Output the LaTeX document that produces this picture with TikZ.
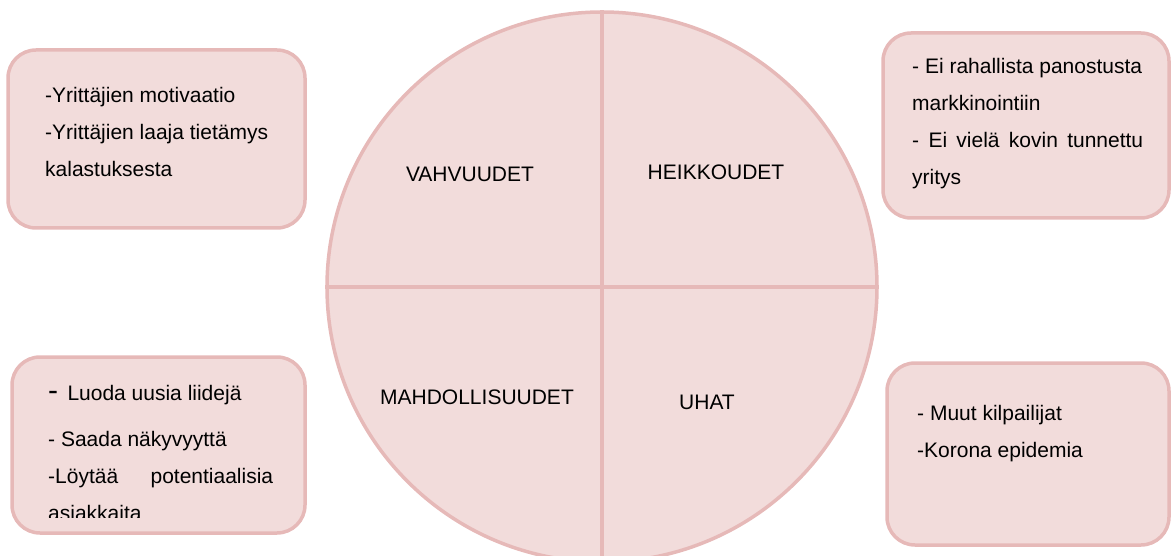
\documentclass[tikz,border=0pt]{standalone}
\usepackage{fontspec}
\setmainfont{Liberation Sans}
\definecolor{swotfill}{HTML}{F2DCDB}
\definecolor{swotline}{HTML}{E6B9B8}
\tikzset{
    swot/.style={font=\fontsize{21}{37}\selectfont},
    swot circle/.style={circle, draw=swotline, fill=swotfill, line width=3.5pt,
        minimum size=550pt, inner sep=0pt},
    swot divider/.style={draw=swotline, line width=3.5pt},
    swot box/.style={rounded corners=28pt, draw=swotline, fill=swotfill,
        line width=3.5pt, inner sep=0pt},
    swot label/.style={inner sep=0pt},
    swot text/.style={anchor=base west, align=left, inner sep=0pt},
}

\begin{document}
\begin{tikzpicture}[swot, x=1pt, y=-1pt]

    \useasboundingbox (0,0) rectangle (1173,556);
    \clip (0,0) rectangle (1173,556);

    % Circle
    \node[swot circle] (swot) at (602,287) {};
    \draw[swot divider] (swot.north) -- (swot.south);
    \draw[swot divider] (swot.west) -- (swot.east);

    \node[swot label] (strength) at (470,174) {VAHVUUDET};
    \node[swot label] (weakness) at (716,172) {HEIKKOUDET};
    \node[swot label] (chance) at (477,397) {MAHDOLLISUUDET};
    \node[swot label] (threat) at (707,402) {UHAT};

    % Boxes
    \node[swot box, minimum width=297pt, minimum height=178pt] (strbox) at (156.5,139) {};
    \node[swot box, minimum width=286pt, minimum height=185pt] (weakbox) at (1026,125.5) {};
    \node[swot box, minimum width=293pt, minimum height=176pt] (chancebox) at (158.5,445) {};
    \node[swot box, minimum width=282pt, minimum height=182pt] (threatbox) at (1028,454) {};

    % Texts (base = last line)
    \node[swot text] (strtext) at (45,177) {-Yrittäjien motivaatio\\
        -Yrittäjien laaja tietämys\\ kalastuksesta};
    \node[swot text] (weaktext) at (912,185) {- Ei rahallista panostusta\\
        markkinointiin\\ \makebox[231pt][s]{- Ei vielä kovin tunnettu}\\ yritys};
    \begin{scope}
        \clip (0,357) rectangle (320,517);
        \node[swot text] (chancetext) at (48,520) {{\fontsize{30}{37}\selectfont -}\, Luoda uusia liidejä\\[9pt]
            - Saada näkyvyyttä\\ \makebox[225pt][s]{-Löytää potentiaalisia}\\ asiakkaita};
    \end{scope}
    \node[swot text] (threattext) at (917,457) {- Muut kilpailijat\\ -Korona epidemia};

\end{tikzpicture}
\end{document}
